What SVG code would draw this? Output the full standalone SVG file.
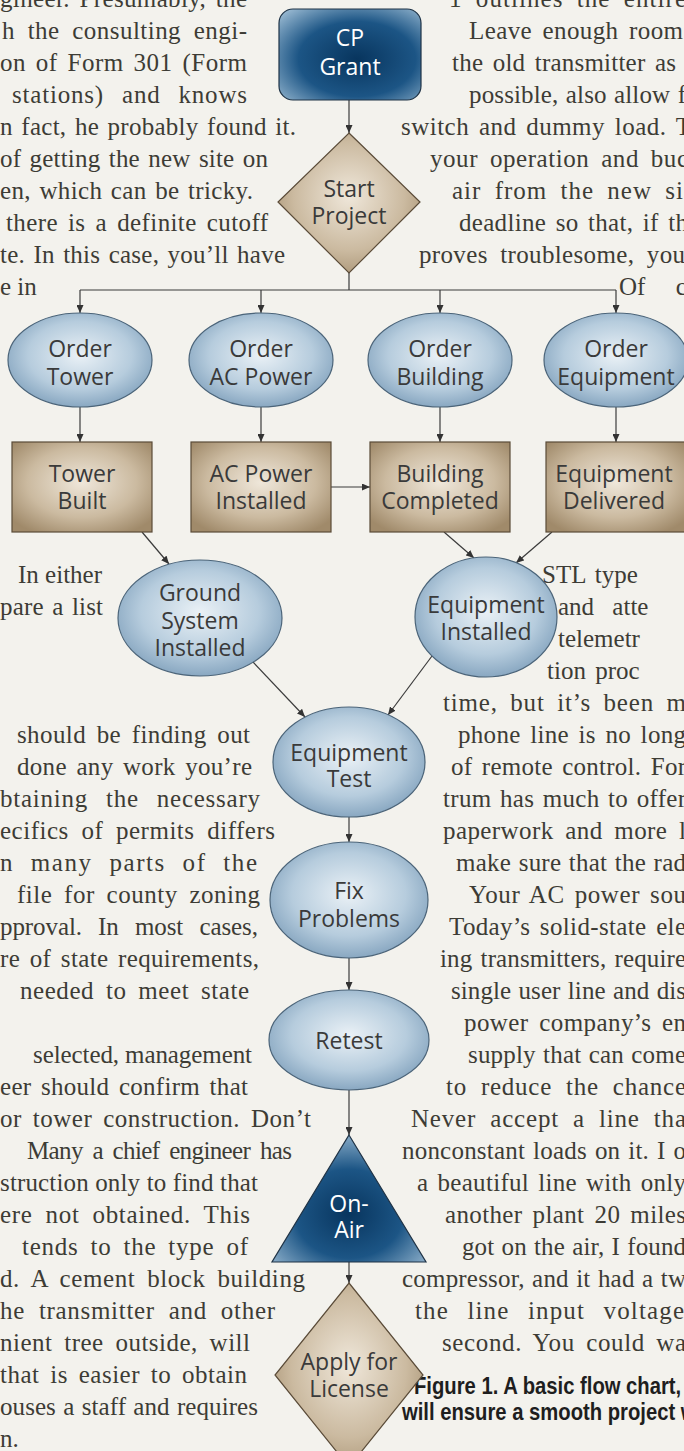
<svg xmlns="http://www.w3.org/2000/svg" width="684" height="1451" viewBox="0 0 684 1451">
<style>
.body{font-family:"Liberation Serif","Times New Roman",serif;font-size:25px;fill:#3d3c35}
.lbl{font-family:"Open Sans","Noto Sans",sans-serif;font-size:23px;fill:#3a3a3a;text-anchor:middle}
.w{fill:#ffffff}
.edge{fill:none;stroke:#3b3b3b;stroke-width:1.2}
.blue{fill:url(#gBlue);stroke:#4b6479;stroke-width:1.2}
.tan{fill:url(#gTan);stroke:#5a4b38;stroke-width:1.2}
.navy{stroke:#1f3346;stroke-width:1.2}
.cap{font-family:"Liberation Sans",Arial,sans-serif;font-weight:bold;font-size:23px;fill:#1e1e1e}
</style>
<defs>
<marker id="ah" markerWidth="8" markerHeight="7" refX="8" refY="3.5" orient="auto" markerUnits="userSpaceOnUse">
<path d="M0,0 L8,3.5 L0,7 Z" fill="#333"/>
</marker>
<radialGradient id="gBlue" cx="0.5" cy="0.45" r="0.6">
<stop offset="0" stop-color="#eaf1f6"/>
<stop offset="0.6" stop-color="#b6ccdd"/>
<stop offset="1" stop-color="#7d9eba"/>
</radialGradient>
<radialGradient id="gTan" cx="0.5" cy="0.45" r="0.65">
<stop offset="0" stop-color="#efe7da"/>
<stop offset="0.6" stop-color="#cbbaa0"/>
<stop offset="1" stop-color="#a08a6a"/>
</radialGradient>
<radialGradient id="gNavy" cx="0.55" cy="0.55" r="0.75">
<stop offset="0" stop-color="#08355e"/>
<stop offset="0.55" stop-color="#1c5585"/>
<stop offset="1" stop-color="#a0bfd6"/>
</radialGradient>
<radialGradient id="gNavyTri" cx="0.5" cy="0.62" r="0.7">
<stop offset="0" stop-color="#08355e"/>
<stop offset="0.5" stop-color="#1c5585"/>
<stop offset="1" stop-color="#a7c4da"/>
</radialGradient>
</defs>

<rect width="684" height="1451" fill="#f3f2ed"/>

<!-- left column of body copy (justified: word gaps plus fitted length) -->
<g id="copy-left" class="body">
<text x="0" y="7" textLength="247" style="word-spacing:3px">gineer. Presumably, the</text>
<text x="2" y="39" textLength="245" style="word-spacing:6px">h the consulting engi-</text>
<text x="0" y="71" textLength="247" style="word-spacing:3px">on of Form 301 (Form</text>
<text x="12" y="103" textLength="235" style="word-spacing:11px">stations) and knows</text>
<text x="0" y="135" textLength="296" style="word-spacing:2px">n fact, he probably found it.</text>
<text x="0" y="167" textLength="268" style="word-spacing:2px">of getting the new site on</text>
<text x="0" y="199" textLength="253" style="word-spacing:2px">en, which can be tricky.</text>
<text x="6" y="231" textLength="262" style="word-spacing:3.5px">there is a definite cutoff</text>
<text x="0" y="263" textLength="285" style="word-spacing:2px">te. In this case, you’ll have</text>
<text x="0" y="295">e in</text>
<text x="102" y="583" text-anchor="end">In either</text>
<text x="0" y="615" textLength="103" style="word-spacing:2px">pare a list</text>
<text x="17" y="743" textLength="233" style="word-spacing:4px">should be finding out</text>
<text x="17" y="775" textLength="235" style="word-spacing:3px">done any work you’re</text>
<text x="0" y="807" textLength="260" style="word-spacing:11px">btaining the necessary</text>
<text x="0" y="839" textLength="275" style="word-spacing:6px">ecifics of permits differs</text>
<text x="0" y="871" textLength="257" style="word-spacing:9px">n many parts of the</text>
<text x="17" y="903" textLength="243" style="word-spacing:5px">file for county zoning</text>
<text x="0" y="935" textLength="258" style="word-spacing:10px">pproval. In most cases,</text>
<text x="0" y="967" textLength="259" style="word-spacing:3px">re of state requirements,</text>
<text x="20" y="999" textLength="229" style="word-spacing:5px">needed to meet state</text>
<text x="33" y="1063" textLength="219">selected, management</text>
<text x="0" y="1095" textLength="248" style="word-spacing:3px">eer should confirm that</text>
<text x="0" y="1127" textLength="311" style="word-spacing:4px">or tower construction. Don’t</text>
<text x="27" y="1159" textLength="265" style="word-spacing:4px">Many a chief engineer has</text>
<text x="0" y="1191" textLength="258">struction only to find that</text>
<text x="0" y="1223" textLength="250" style="word-spacing:6px">ere not obtained. This</text>
<text x="22" y="1255" textLength="226" style="word-spacing:5px">tends to the type of</text>
<text x="0" y="1287" textLength="305" style="word-spacing:5px">d. A cement block building</text>
<text x="0" y="1319" textLength="275" style="word-spacing:7px">he transmitter and other</text>
<text x="0" y="1351" textLength="250" style="word-spacing:5px">nient tree outside, will</text>
<text x="0" y="1383" textLength="247" style="word-spacing:4px">that is easier to obtain</text>
<text x="0" y="1415" textLength="258" style="word-spacing:1px">ouses a staff and requires</text>
<text x="0" y="1447">n.</text>
</g>

<!-- right column of body copy, running off the right edge -->
<g id="copy-right" class="body">
<text x="449" y="7" textLength="237" style="word-spacing:6px">1 outlines the entire</text>
<text x="469" y="39" textLength="214" style="word-spacing:4px">Leave enough room</text>
<text x="452" y="71" textLength="224" style="word-spacing:3px">the old transmitter as</text>
<text x="469" y="103" textLength="217" style="word-spacing:1px">possible, also allow f</text>
<text x="401" y="135" textLength="290" style="word-spacing:3px">switch and dummy load. T</text>
<text x="430" y="167" textLength="258" style="word-spacing:5px">your operation and buc</text>
<text x="452" y="199" textLength="231" style="word-spacing:6px">air from the new si</text>
<text x="459" y="231" textLength="229" style="word-spacing:3px">deadline so that, if th</text>
<text x="419" y="263" textLength="266" style="word-spacing:6px">proves troublesome, you</text>
<text x="619" y="295" style="word-spacing:24px">Of c</text>
<text x="542" y="583" style="word-spacing:3px">STL type</text>
<text x="558" y="615" style="word-spacing:12px">and atte</text>
<text x="558" y="647">telemetr</text>
<text x="547" y="679" style="word-spacing:3px">tion proc</text>
<text x="443" y="711" textLength="243" style="word-spacing:5.5px">time, but it’s been m</text>
<text x="458" y="743" textLength="228" style="word-spacing:3px">phone line is no long</text>
<text x="451" y="775" textLength="235" style="word-spacing:3px">of remote control. For</text>
<text x="443" y="807" textLength="243" style="word-spacing:2px">trum has much to offer</text>
<text x="443" y="839" textLength="243" style="word-spacing:5px">paperwork and more l</text>
<text x="456" y="871" textLength="230" style="word-spacing:1px">make sure that the rad</text>
<text x="469" y="903" textLength="217" style="word-spacing:3px">Your AC power sou</text>
<text x="449" y="935" textLength="237" style="word-spacing:3px">Today’s solid-state ele</text>
<text x="440" y="967" textLength="246" style="word-spacing:2px">ing transmitters, require</text>
<text x="451" y="999" textLength="235" style="word-spacing:1px">single user line and dis</text>
<text x="464" y="1031" textLength="222" style="word-spacing:4px">power company’s en</text>
<text x="468" y="1063" textLength="218" style="word-spacing:1px">supply that can come</text>
<text x="446" y="1095" textLength="240" style="word-spacing:7px">to reduce the chance</text>
<text x="411" y="1127" textLength="275" style="word-spacing:7px">Never accept a line tha</text>
<text x="402" y="1159" textLength="284" style="word-spacing:1.5px">nonconstant loads on it. I o</text>
<text x="417" y="1191" textLength="269" style="word-spacing:2.5px">a beautiful line with only</text>
<text x="445" y="1223" textLength="241" style="word-spacing:3.5px">another plant 20 miles</text>
<text x="462" y="1255" textLength="224" style="word-spacing:1px">got on the air, I found</text>
<text x="402" y="1287" textLength="284" style="word-spacing:1px">compressor, and it had a tw</text>
<text x="415" y="1319" textLength="269" style="word-spacing:11px">the line input voltage</text>
<text x="442" y="1351" textLength="244" style="word-spacing:4.5px">second. You could wa</text>
</g>

<!-- figure caption, condensed bold -->
<g id="caption" class="cap">
<text transform="translate(414,1394) scale(0.88,1)">Figure 1. A basic flow chart,</text>
<text transform="translate(402,1420) scale(0.88,1)">will ensure a smooth project w</text>
</g>

<!-- connectors -->
<g id="connectors" class="edge">
<path d="M349,100 V133" marker-end="url(#ah)"/>
<path d="M349,273 V290 M80,290 H616"/>
<path d="M80,290 V313" marker-end="url(#ah)"/>
<path d="M261,290 V313" marker-end="url(#ah)"/>
<path d="M440,290 V313" marker-end="url(#ah)"/>
<path d="M616,290 V313" marker-end="url(#ah)"/>
<path d="M80,407 V442" marker-end="url(#ah)"/>
<path d="M261,407 V442" marker-end="url(#ah)"/>
<path d="M440,407 V442" marker-end="url(#ah)"/>
<path d="M616,407 V442" marker-end="url(#ah)"/>
<path d="M331,487 H370" marker-end="url(#ah)"/>
<path d="M142,532 L169,564" marker-end="url(#ah)"/>
<path d="M444,532 L474,558" marker-end="url(#ah)"/>
<path d="M552,532 L516,563" marker-end="url(#ah)"/>
<path d="M253,662 L305,717" marker-end="url(#ah)"/>
<path d="M432,656 L388,715" marker-end="url(#ah)"/>
<path d="M349,817 V842" marker-end="url(#ah)"/>
<path d="M349,958 V990" marker-end="url(#ah)"/>
<path d="M349,1090 V1135" marker-end="url(#ah)"/>
<path d="M349,1262 V1283" marker-end="url(#ah)"/>
</g>

<!-- nodes: multi-line labels are one text each, lines as tspans -->
<g id="n-cp-grant">
<rect x="279" y="9" width="142" height="91" rx="14" fill="url(#gNavy)" class="navy"/>
<text class="lbl w" x="350" y="46">CP<tspan x="350" dy="29">Grant</tspan></text>
</g>
<g id="n-start-project">
<polygon class="tan" points="349,133 420,202 349,273 278,202"/>
<text class="lbl" x="349" y="197">Start<tspan x="349" dy="27">Project</tspan></text>
</g>
<g id="n-order-tower">
<ellipse class="blue" cx="80" cy="360" rx="72" ry="47"/>
<text class="lbl" x="80" y="357">Order<tspan x="80" dy="28">Tower</tspan></text>
</g>
<g id="n-order-ac-power">
<ellipse class="blue" cx="261" cy="360" rx="72" ry="47"/>
<text class="lbl" x="261" y="357">Order<tspan x="261" dy="28">AC Power</tspan></text>
</g>
<g id="n-order-building">
<ellipse class="blue" cx="440" cy="360" rx="72" ry="47"/>
<text class="lbl" x="440" y="357">Order<tspan x="440" dy="28">Building</tspan></text>
</g>
<g id="n-order-equipment">
<ellipse class="blue" cx="616" cy="360" rx="72" ry="47"/>
<text class="lbl" x="616" y="357">Order<tspan x="616" dy="28">Equipment</tspan></text>
</g>
<g id="n-tower-built">
<rect class="tan" x="12" y="442" width="140" height="90"/>
<text class="lbl" x="82" y="482">Tower<tspan x="82" dy="27">Built</tspan></text>
</g>
<g id="n-ac-power-installed">
<rect class="tan" x="191" y="442" width="140" height="90"/>
<text class="lbl" x="261" y="482">AC Power<tspan x="261" dy="27">Installed</tspan></text>
</g>
<g id="n-building-completed">
<rect class="tan" x="370" y="442" width="140" height="90"/>
<text class="lbl" x="440" y="482">Building<tspan x="440" dy="27">Completed</tspan></text>
</g>
<g id="n-equipment-delivered">
<rect class="tan" x="546" y="442" width="140" height="90"/>
<text class="lbl" x="614" y="482">Equipment<tspan x="614" dy="27">Delivered</tspan></text>
</g>
<g id="n-ground-system">
<ellipse class="blue" cx="200" cy="618" rx="82" ry="58"/>
<text class="lbl" x="200" y="601">Ground<tspan x="200" dy="28">System</tspan><tspan x="200" dy="27">Installed</tspan></text>
</g>
<g id="n-equipment-installed">
<ellipse class="blue" cx="486" cy="617" rx="71" ry="60"/>
<text class="lbl" x="486" y="613">Equipment<tspan x="486" dy="27">Installed</tspan></text>
</g>
<g id="n-equipment-test">
<ellipse class="blue" cx="349" cy="762" rx="76" ry="55"/>
<text class="lbl" x="349" y="761">Equipment<tspan x="349" dy="26">Test</tspan></text>
</g>
<g id="n-fix-problems">
<ellipse class="blue" cx="349" cy="900" rx="79" ry="58"/>
<text class="lbl" x="349" y="899">Fix<tspan x="349" dy="28">Problems</tspan></text>
</g>
<g id="n-retest">
<ellipse class="blue" cx="349" cy="1040" rx="80" ry="50"/>
<text class="lbl" x="349" y="1049">Retest</text>
</g>
<g id="n-on-air">
<polygon points="349,1135 426,1262 272,1262" fill="url(#gNavyTri)" class="navy"/>
<text class="lbl w" x="349" y="1212">On-<tspan x="349" dy="26">Air</tspan></text>
</g>
<g id="n-apply-license">
<polygon class="tan" points="349,1283 423,1375 349,1467 275,1375"/>
<text class="lbl" x="349" y="1370">Apply for<tspan x="349" dy="27">License</tspan></text>
</g>
</svg>
